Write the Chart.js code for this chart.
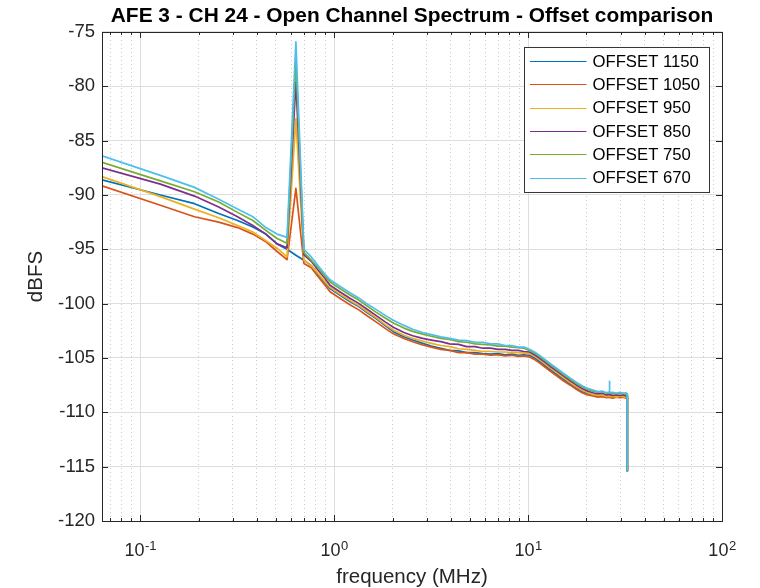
<!DOCTYPE html>
<html>
<head>
<meta charset="utf-8">
<title>AFE 3 - CH 24 - Open Channel Spectrum - Offset comparison</title>
<script src="https://cdn.jsdelivr.net/npm/chart.js@4.4.1/dist/chart.umd.min.js"></script>
<style>
  html, body { margin: 0; padding: 0; background: #fff; }
  #wrap { width: 760px; height: 588px; }
</style>
</head>
<body>
<div id="wrap"><canvas id="spectrum" width="760" height="588"></canvas></div>
<script>
// Frequency bins (MHz)
const freqMHz = [
    0.0635, 0.127, 0.1904, 0.2539, 0.3174, 0.3809, 0.4443, 0.5078, 0.5713, 0.6348, 0.6982, 0.7617, 0.8252, 0.8887, 0.9521,
    1.079, 1.206, 1.333, 1.46, 1.65, 1.84, 2.03, 2.29, 2.54, 2.86,
    3.17, 3.55, 3.94, 4.38, 4.82, 5.33, 5.84, 6.41, 6.98, 7.62,
    8.25, 8.89, 9.52, 10.16, 10.79, 11.43, 12.25, 13.2, 14.2, 15.2,
    16.5, 17.8, 19.0, 20.3, 21.6, 22.9, 24.1, 25.4, 26.22, 26.28,
    26.35, 27.3, 28.6, 29.8, 31.1, 32.0, 32.44, 32.5
];

// Series labels, in legend order
const seriesNames = ['OFFSET 1150', 'OFFSET 1050', 'OFFSET 950', 'OFFSET 850', 'OFFSET 750', 'OFFSET 670'];
const seriesColors = ['#0072BD', '#D95319', '#EDB120', '#7E2F8E', '#77AC30', '#4DBEEE'];

// dBFS values per offset
const offset1150 = [
    -88.6, -90.0, -90.8, -91.7, -92.35, -92.95, -93.6, -94.5, -95.0, -95.55, -96.0, -96.5, -97.3, -98.0, -98.6,
    -99.25, -99.8, -100.25, -100.75, -101.4, -102.05, -102.6, -103.05, -103.35, -103.65,
    -103.9, -104.1, -104.3, -104.35, -104.5, -104.5, -104.6, -104.65, -104.6, -104.7,
    -104.65, -104.75, -104.7, -104.75, -105.0, -105.3, -105.7, -106.15, -106.55, -106.95,
    -107.4, -107.8, -108.1, -108.3, -108.4, -108.5, -108.45, -108.5, -108.45, -108.5,
    -108.5, -108.45, -108.55, -108.5, -108.45, -108.55, -108.5, -115.4
];
const offset1050 = [
    -89.15, -90.95, -92.0, -92.5, -93.0, -93.6, -94.3, -95.2, -95.95, -89.4, -96.3, -96.7, -97.5, -98.2, -98.9,
    -99.55, -100.1, -100.55, -101.05, -101.7, -102.3, -102.8, -103.2, -103.5, -103.8,
    -104.0, -104.2, -104.3, -104.5, -104.5, -104.65, -104.65, -104.75, -104.7, -104.8,
    -104.75, -104.85, -104.8, -104.9, -105.15, -105.45, -105.85, -106.3, -106.7, -107.1,
    -107.5, -107.9, -108.2, -108.4, -108.5, -108.6, -108.55, -108.65, -108.6, -108.65,
    -108.6, -108.7, -108.6, -108.65, -108.6, -108.7, -108.65, -115.4
];
const offset950 = [
    -88.3, -90.15, -91.3, -92.1, -92.8, -93.4, -94.2, -94.9, -95.7, -83.0, -96.0, -96.5, -97.2, -97.9, -98.5,
    -99.15, -99.7, -100.15, -100.65, -101.3, -101.95, -102.45, -102.9, -103.2, -103.45,
    -103.65, -103.85, -103.95, -104.15, -104.2, -104.3, -104.4, -104.4, -104.45, -104.45,
    -104.5, -104.5, -104.55, -104.6, -104.85, -105.15, -105.55, -106.0, -106.4, -106.8,
    -107.25, -107.65, -107.95, -108.2, -108.35, -108.45, -108.4, -108.55, -108.45, -108.5,
    -108.55, -108.5, -108.6, -108.5, -108.55, -108.6, -108.55, -115.4
];
const offset850 = [
    -87.5, -89.0, -90.1, -91.1, -92.0, -92.8, -93.6, -94.5, -94.85, -79.6, -95.5, -96.1, -96.9, -97.6, -98.3,
    -98.95, -99.5, -99.95, -100.45, -101.1, -101.7, -102.2, -102.65, -102.95, -103.2,
    -103.35, -103.5, -103.7, -103.75, -103.95, -103.95, -104.1, -104.1, -104.2, -104.2,
    -104.3, -104.3, -104.4, -104.45, -104.7, -105.0, -105.4, -105.85, -106.25, -106.65,
    -107.1, -107.5, -107.8, -108.05, -108.2, -108.3, -108.25, -108.4, -108.3, -108.4,
    -108.35, -108.45, -108.4, -108.45, -108.4, -108.5, -108.45, -115.4
];
const offset750 = [
    -87.0, -88.7, -89.7, -90.65, -91.6, -92.35, -93.25, -94.0, -94.45, -77.6, -95.3, -96.0, -96.7, -97.4, -98.0,
    -98.65, -99.2, -99.65, -100.15, -100.8, -101.35, -101.8, -102.25, -102.55, -102.8,
    -103.0, -103.2, -103.3, -103.5, -103.55, -103.7, -103.75, -103.8, -103.9, -103.9,
    -104.0, -104.05, -104.1, -104.3, -104.55, -104.85, -105.25, -105.7, -106.1, -106.5,
    -106.95, -107.35, -107.65, -107.9, -108.05, -108.15, -108.1, -108.25, -108.2, -108.25,
    -108.2, -108.3, -108.25, -108.3, -108.25, -108.35, -108.35, -115.4
];
const offset670 = [
    -86.4, -88.2, -89.3, -90.4, -91.3, -92.0, -93.0, -93.6, -93.9, -75.9, -95.0, -95.7, -96.5, -97.2, -97.8,
    -98.45, -99.0, -99.45, -99.95, -100.55, -101.1, -101.55, -102.0, -102.35, -102.65,
    -102.85, -103.05, -103.2, -103.35, -103.4, -103.55, -103.55, -103.7, -103.7, -103.85,
    -103.85, -104.0, -104.0, -104.2, -104.45, -104.75, -105.15, -105.6, -106.0, -106.4,
    -106.85, -107.25, -107.55, -107.8, -107.95, -108.1, -108.05, -108.2, -108.1, -107.15,
    -108.2, -108.15, -108.25, -108.15, -108.25, -108.2, -108.3, -115.4
];
const seriesValues = [offset1150, offset1050, offset950, offset850, offset750, offset670];

// Axis ticks
const xDecades = [0.1, 1, 10, 100];
const xDecadeExp = ['-1', '0', '1', '2'];
const yTicks = [-120, -115, -110, -105, -100, -95, -90, -85, -80, -75];

const FONT = "'Liberation Sans', Arial, Helvetica, sans-serif";
const AXIS_COLOR = '#262626';

// minor + major tick positions for the log axis
const xTickValues = [];
[0.01, 0.1, 1, 10].forEach(d => {
    for (let m = 1; m <= 9; m++) xTickValues.push(+(d * m).toPrecision(3));
});
xTickValues.push(100);

function isDecade(v) {
    const l = Math.log10(v);
    return Math.abs(l - Math.round(l)) < 1e-6;
}

// Box, inside ticks, superscript x labels
const axesDecor = {
    id: 'axesDecor',
    afterDatasetsDraw(chart) {
        const { ctx, chartArea: a, scales } = chart;
        const xs = scales.x, ys = scales.y;
        ctx.save();
        ctx.strokeStyle = AXIS_COLOR;
        ctx.lineWidth = 1;
        ctx.beginPath();
        xTickValues.forEach(v => {
            if (v < xs.min || v > xs.max) return;
            const px = Math.round(xs.getPixelForValue(v)) + 0.5;
            const len = isDecade(v) ? 6 : 3;
            ctx.moveTo(px, a.bottom); ctx.lineTo(px, a.bottom - len);
            ctx.moveTo(px, a.top); ctx.lineTo(px, a.top + len);
        });
        yTicks.forEach(v => {
            const py = Math.round(ys.getPixelForValue(v)) + 0.5;
            ctx.moveTo(a.left, py); ctx.lineTo(a.left + 6, py);
            ctx.moveTo(a.right, py); ctx.lineTo(a.right - 6, py);
        });
        ctx.stroke();
        ctx.strokeRect(Math.round(a.left) + 0.5, Math.round(a.top) + 0.5,
            Math.round(a.right - a.left), Math.round(a.bottom - a.top));

        // x tick labels as 10^n
        ctx.fillStyle = AXIS_COLOR;
        ctx.textBaseline = 'alphabetic';
        ctx.textAlign = 'left';
        xDecades.forEach((v, i) => {
            const px = xs.getPixelForValue(v);
            ctx.font = '18px ' + FONT;
            const w1 = ctx.measureText('10').width;
            ctx.font = '13px ' + FONT;
            const w2 = ctx.measureText(xDecadeExp[i]).width;
            const left = px - (w1 + w2) / 2;
            ctx.font = '18px ' + FONT;
            ctx.fillText('10', left, a.bottom + 35);
            ctx.font = '13px ' + FONT;
            ctx.fillText(xDecadeExp[i], left + w1 + 0.5, a.bottom + 29);
        });
        ctx.restore();
    }
};

// Legend drawn inside the axes, top right
const insideLegend = {
    id: 'insideLegend',
    afterDraw(chart) {
        const { ctx, chartArea: a } = chart;
        const x0 = a.right - 197.5, y0 = a.top + 15.5, w = 185, h = 145;
        ctx.save();
        ctx.fillStyle = '#fff';
        ctx.fillRect(x0, y0, w, h);
        ctx.strokeStyle = '#333';
        ctx.lineWidth = 1;
        ctx.strokeRect(x0, y0, w, h);
        ctx.font = '16.7px ' + FONT;
        ctx.textBaseline = 'middle';
        ctx.textAlign = 'left';
        seriesNames.forEach((name, i) => {
            const cy = y0 + 13.5 + i * 23.33;
            ctx.strokeStyle = seriesColors[i];
            ctx.lineWidth = 1.2;
            ctx.beginPath();
            ctx.moveTo(x0 + 5.5, Math.round(cy) + 0.5);
            ctx.lineTo(x0 + 62, Math.round(cy) + 0.5);
            ctx.stroke();
            ctx.fillStyle = '#000';
            ctx.fillText(name, x0 + 68, cy + 1);
        });
        ctx.restore();
    }
};

const datasets = seriesNames.map((name, i) => ({
    label: name,
    data: freqMHz.map((f, k) => ({ x: f, y: seriesValues[i][k] })),
    borderColor: seriesColors[i],
    borderWidth: 1.7,
    borderJoinStyle: 'round',
    pointRadius: 0,
    tension: 0,
    fill: false,
    order: seriesNames.length - i   // last series on top, like the original plot
}));

new Chart(document.getElementById('spectrum'), {
    type: 'line',
    data: { datasets },
    plugins: [axesDecor, insideLegend],
    options: {
        responsive: false,
        animation: false,
        devicePixelRatio: 1,
        parsing: false,
        layout: { padding: { left: 0, right: 38, top: 0, bottom: 0 } },
        plugins: {
            legend: { display: false },
            tooltip: { enabled: false },
            title: {
                display: true,
                text: 'AFE 3 - CH 24 - Open Channel Spectrum - Offset comparison',
                fullSize: false,
                color: '#000',
                font: { family: FONT, size: 20.9, weight: 'bold', lineHeight: 1.2 },
                padding: { top: 3.5, bottom: 3.4 }
            }
        },
        scales: {
            x: {
                type: 'logarithmic',
                min: freqMHz[0],
                max: 100,
                afterBuildTicks: scale => {
                    scale.ticks = xTickValues
                        .filter(v => v >= scale.min && v <= scale.max)
                        .map(v => ({ value: v, major: isDecade(v) }));
                },
                afterFit: scale => { scale.height = 67; },
                ticks: { display: false, autoSkip: false },
                grid: {
                    drawTicks: false,
                    color: c => (c.tick && isDecade(c.tick.value)) ? '#dedede' : '#c9c9c9',
                    lineWidth: 1
                },
                border: {
                    display: false,
                    dash: c => (c.tick && !isDecade(c.tick.value)) ? [1, 3] : []
                },
                title: {
                    display: true,
                    text: 'frequency (MHz)',
                    color: AXIS_COLOR,
                    font: { family: FONT, size: 20.5, lineHeight: 1 },
                    padding: { top: 0, bottom: 0 }
                }
            },
            y: {
                type: 'linear',
                min: -120,
                max: -75,
                afterFit: scale => { scale.width = 102; },
                ticks: {
                    stepSize: 5,
                    color: AXIS_COLOR,
                    padding: 7,
                    font: { family: FONT, size: 18.5 }
                },
                grid: { drawTicks: false, color: '#dedede', lineWidth: 1 },
                border: { display: false },
                title: {
                    display: true,
                    text: 'dBFS',
                    color: AXIS_COLOR,
                    font: { family: FONT, size: 20.5, lineHeight: 1.2 },
                    padding: { top: 23.7, bottom: 0 }
                }
            }
        }
    }
});
</script>
</body>
</html>
